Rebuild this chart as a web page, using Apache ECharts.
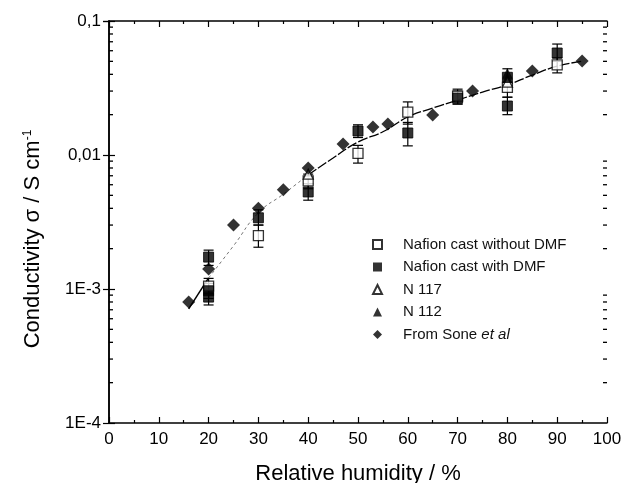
<!DOCTYPE html>
<html><head><meta charset="utf-8">
<script src="https://cdn.jsdelivr.net/npm/echarts@6/dist/echarts.min.js"></script>
<style>html,body{margin:0;padding:0;background:#fff}#c{width:625px;height:483px}</style>
</head><body><div id="c"></div>
<script>
// ---- data ----
// Nafion cast without DMF: [RH, sigma, low, high]
const noDmfX = [20, 30, 40, 50, 60, 70, 80, 90];
const noDmfY = [0.00105, 0.0025, 0.0064, 0.0103, 0.0209, 0.0275, 0.032, 0.047];
const noDmfLo = [0.00092, 0.00205, 0.0056, 0.0087, 0.017, 0.024, 0.027, 0.041];
const noDmfHi = [0.0012, 0.0030, 0.0072, 0.0118, 0.0249, 0.031, 0.037, 0.053];
// Nafion cast with DMF
const dmfX = [20, 20, 20, 30, 40, 50, 60, 70, 80, 80, 90];
const dmfY = [0.00173, 0.00097, 0.00087, 0.0034, 0.0053, 0.0151, 0.0146, 0.0266, 0.0232, 0.038, 0.0577];
const dmfLo = [0.0015, 0.00085, 0.00076, 0.0030, 0.0046, 0.0135, 0.0117, 0.024, 0.020, 0.033, 0.050];
const dmfHi = [0.00195, 0.0011, 0.00098, 0.0039, 0.0061, 0.0168, 0.0175, 0.030, 0.027, 0.044, 0.0673];
// N 117
const n117X = [40, 80];
const n117Y = [0.0072, 0.035];
// N 112
const n112X = [80, 80];
const n112Y = [0.041, 0.0375];
// From Sone et al
const soneX = [16, 20, 25, 30, 35, 40, 47, 53, 56, 65, 73, 85, 95];
const soneY = [0.0008, 0.00141, 0.0030, 0.0040, 0.0055, 0.0080, 0.0121, 0.0162, 0.0170, 0.0199, 0.030, 0.0424, 0.0502];
// fitted curve
const fitX = [16, 20, 25, 30, 35, 40, 45, 50, 55, 60, 65, 70, 75, 80, 85, 90, 95];
const fitY = [0.00071, 0.00121, 0.0021, 0.0037, 0.0051, 0.0071, 0.0095, 0.0125, 0.0149, 0.0192, 0.0224, 0.0257, 0.0295, 0.0333, 0.0395, 0.046, 0.050];
// axis ticks
const yTickLabels = {"0.0001": "1E-4", "0.001": "1E-3", "0.01": "0,01", "0.1": "0,1"};
const yMinor = [];
[0.0001, 0.001, 0.01].forEach(d => { for (let k = 2; k <= 9; k++) yMinor.push(+(d * k).toPrecision(3)); });
const tickEdges = [0, 100];

const zip = (xs, ys) => xs.map((x, i) => [x, ys[i]]);
const zipErr = (xs, ys, lo, hi) => xs.map((x, i) => [x, ys[i], lo[i], hi[i]]);
const minorData = [];
tickEdges.forEach(e => yMinor.forEach(v => minorData.push([e, v])));

function minorRender(params, api) {
  const e = api.value(0), v = api.value(1);
  const p = api.coord([e, v]);
  const d = e === 0 ? 4 : -4;
  return {type: 'line', shape: {x1: p[0], y1: p[1], x2: p[0] + d, y2: p[1]}, style: {stroke: '#000', lineWidth: 1.3}};
}
function errRender(params, api) {
  const x = api.value(0), lo = api.value(2), hi = api.value(3);
  const p1 = api.coord([x, lo]), p2 = api.coord([x, hi]);
  const w = 5;
  const st = {stroke: '#000', lineWidth: 1.2};
  return {type: 'group', children: [
    {type: 'line', shape: {x1: p1[0], y1: p1[1], x2: p2[0], y2: p2[1]}, style: st},
    {type: 'line', shape: {x1: p1[0]-w, y1: p1[1], x2: p1[0]+w, y2: p1[1]}, style: st},
    {type: 'line', shape: {x1: p2[0]-w, y1: p2[1], x2: p2[0]+w, y2: p2[1]}, style: st}
  ]};
}

const font = 'Liberation Sans, Arial, sans-serif';
const axisLine = {show: true, lineStyle: {color: '#000', width: 1.5}};
const chart = echarts.init(document.getElementById('c'), null, {renderer: 'canvas'});
chart.setOption({
  animation: false,
  backgroundColor: '#fff',
  grid: {left: 109, right: 18, top: 21, bottom: 60, containLabel: false, outerBoundsMode: 'none'},
  legend: {
    orient: 'vertical', left: 367, top: 232, itemGap: 7.5, itemWidth: 9, itemHeight: 9,
    textStyle: {fontFamily: font, fontSize: 15, color: '#111', padding: [0, 0, 0, 16],
      rich: {i: {fontStyle: 'italic', fontFamily: font, fontSize: 15, color: '#111'}}},
    formatter: n => n === 'From Sone et al' ? 'From Sone {i|et al}' : n,
    data: [
      {name: 'Nafion cast without DMF', icon: 'rect'},
      {name: 'Nafion cast with DMF', icon: 'rect'},
      {name: 'N 117', icon: 'triangle'},
      {name: 'N 112', icon: 'triangle'},
      {name: 'From Sone et al', icon: 'diamond'}
    ]
  },
  xAxis: [{
    type: 'value', min: 0, max: 100, interval: 10,
    name: 'Relative humidity / %', nameLocation: 'middle', nameGap: 40,
    nameTextStyle: {fontFamily: font, fontSize: 22, color: '#000'},
    axisLine: axisLine,
    axisTick: {inside: true, length: 6, lineStyle: {color: '#000', width: 1.2}},
    minorTick: {show: true, splitNumber: 2, length: 3, lineStyle: {color: '#000', width: 1.2}},
    axisLabel: {fontFamily: font, fontSize: 17, color: '#000', margin: 8},
    splitLine: {show: false}
  }, {
    type: 'value', min: 0, max: 100, interval: 10, position: 'top',
    axisLine: axisLine,
    axisTick: {inside: true, length: 6, lineStyle: {color: '#000', width: 1.2}},
    minorTick: {show: true, splitNumber: 2, length: 3, lineStyle: {color: '#000', width: 1.2}},
    axisLabel: {show: false}, splitLine: {show: false}
  }],
  yAxis: [{
    type: 'log', logBase: 10, min: 0.0001, max: 0.1,
    name: '{a|Conductivity σ / S cm}{s|-1}', nameLocation: 'middle', nameGap: 65,
    nameTextStyle: {fontFamily: font, fontSize: 22, color: '#000', padding: [0, 34, 0, 0],
      rich: {a: {fontFamily: font, fontSize: 22, color: '#000'},
             s: {fontFamily: font, fontSize: 12, color: '#000', verticalAlign: 'top', padding: [0, 0, 10, 0]}}},
    axisLine: axisLine,
    axisTick: {inside: true, length: 6, lineStyle: {color: '#000', width: 1.2}},
    axisLabel: {fontFamily: font, fontSize: 17, color: '#000', margin: 8,
      formatter: v => yTickLabels[String(+v.toPrecision(3))] || ''},
    splitLine: {show: false}
  }, {
    type: 'log', logBase: 10, min: 0.0001, max: 0.1, position: 'right',
    axisLine: axisLine,
    axisTick: {inside: true, length: 6, lineStyle: {color: '#000', width: 1.2}},
    axisLabel: {show: false}, splitLine: {show: false}
  }],
  series: [
    {type: 'custom', renderItem: minorRender, data: minorData,
     encode: {x: 0, y: 1}, clip: false, z: 10, zlevel: 1},
    {type: 'line', name: 'fit1', data: zip(fitX.slice(0, 2), fitY.slice(0, 2)), showSymbol: false,
     lineStyle: {color: '#000', width: 1.5}, silent: true, z: 2},
    {type: 'line', name: 'fit2', data: zip(fitX.slice(1, 6), fitY.slice(1, 6)), showSymbol: false, smooth: true,
     lineStyle: {color: '#777', width: 1, type: [3, 3]}, silent: true, z: 2},
    {type: 'line', name: 'fit3', data: zip(fitX.slice(5), fitY.slice(5)), showSymbol: false, smooth: true,
     lineStyle: {color: '#000', width: 1.3, type: [10, 2]}, silent: true, z: 2},
    {type: 'custom', name: 'errNo', renderItem: errRender, data: zipErr(noDmfX, noDmfY, noDmfLo, noDmfHi),
     encode: {x: 0, y: 1}, silent: true, z: 3},
    {type: 'custom', name: 'errDmf', renderItem: errRender, data: zipErr(dmfX, dmfY, dmfLo, dmfHi),
     encode: {x: 0, y: 1}, silent: true, z: 3},
    {type: 'scatter', name: 'Nafion cast without DMF', data: zip(noDmfX, noDmfY), symbol: 'rect', symbolSize: 10,
     itemStyle: {color: '#fff', borderColor: '#000', borderWidth: 1.3}, z: 4},
    {type: 'scatter', name: 'Nafion cast with DMF', data: zip(dmfX, dmfY), symbol: 'rect', symbolSize: 10,
     itemStyle: {color: '#000', borderColor: '#000'}, z: 5},
    {type: 'scatter', name: 'N 117', data: zip(n117X, n117Y), symbol: 'triangle', symbolSize: 10,
     itemStyle: {color: '#fff', borderColor: '#000', borderWidth: 1.3}, z: 5},
    {type: 'scatter', name: 'N 112', data: zip(n112X, n112Y), symbol: 'triangle', symbolSize: 10,
     itemStyle: {color: '#000'}, z: 5},
    {type: 'scatter', name: 'From Sone et al', data: zip(soneX, soneY), symbol: 'diamond', symbolSize: 13,
     itemStyle: {color: '#000'}, z: 6}
  ]
});
</script></body></html>
